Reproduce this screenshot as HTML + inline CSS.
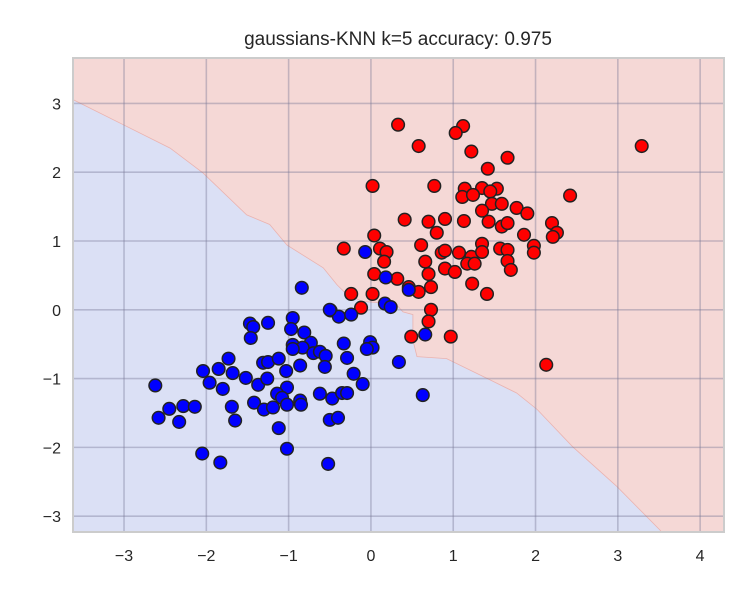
<!DOCTYPE html>
<html><head><meta charset="utf-8"><style>
html,body{margin:0;padding:0;background:#fff;}
svg text{font-family:"Liberation Sans","DejaVu Sans",sans-serif;fill:#262626;}
</style></head><body>
<svg id="chart" width="750" height="600" xmlns="http://www.w3.org/2000/svg">
<text x="398" y="45" font-size="19" text-anchor="middle">gaussians-KNN k=5 accuracy: 0.975</text>
<g id="plot"></g>
</svg>
<script>
const xTicks=[-3,-2,-1,0,1,2,3,4];
const yTicks=[-3,-2,-1,0,1,2,3];
const boundaryX=[-3.62,-3.61,-3.01,-2.44,-2.04,-1.51,-1.23,-1.02,-0.58,-0.41,-0.29,-0.10,0.15,0.29,0.39,0.51,0.51,0.56,0.92,1.45,1.77,2.02,2.45,2.99,3.51,3.53];
const boundaryY=[3.06,3.05,2.69,2.35,1.99,1.38,1.24,0.94,0.61,0.36,0.22,0.12,0.10,0.10,-0.03,-0.07,-0.44,-0.68,-0.71,-1.02,-1.21,-1.45,-1.99,-2.57,-3.20,-3.23];
const redX=[0.33,1.12,1.03,0.58,1.22,1.66,1.42,0.02,0.77,1.14,1.35,1.53,1.45,1.11,1.24,1.47,1.59,2.42,1.35,1.77,1.90,0.41,0.70,0.90,1.13,1.43,1.59,1.66,2.20,2.26,2.21,0.80,0.04,1.86,1.98,1.98,-0.33,0.11,0.19,0.16,0.61,0.86,0.90,1.07,1.22,1.35,1.35,1.57,1.66,1.66,1.70,0.66,1.17,1.26,0.90,1.02,0.70,1.23,1.41,0.04,0.32,0.46,0.58,0.73,-0.24,0.02,-0.12,0.73,0.70,0.49,0.97,2.13,3.29];
const redY=[2.69,2.67,2.57,2.38,2.30,2.21,2.05,1.80,1.80,1.76,1.77,1.76,1.72,1.64,1.67,1.54,1.54,1.66,1.44,1.48,1.40,1.31,1.28,1.32,1.29,1.28,1.21,1.26,1.26,1.12,1.06,1.12,1.08,1.09,0.93,0.83,0.89,0.89,0.84,0.70,0.94,0.83,0.86,0.83,0.77,0.96,0.84,0.89,0.87,0.71,0.58,0.70,0.67,0.67,0.60,0.55,0.52,0.38,0.23,0.52,0.45,0.33,0.26,0.33,0.23,0.23,0.03,0.00,-0.17,-0.39,-0.39,-0.80,2.38];
const blueX=[-0.84,-0.49,-0.39,-0.24,0.17,0.24,0.46,0.66,-1.47,-1.43,-1.25,-0.95,-0.97,-1.46,-0.81,-0.73,-0.95,-0.83,-0.70,-0.62,-0.55,-0.56,-0.86,-0.95,-0.33,-0.01,0.02,-0.05,-0.29,0.34,-1.73,-1.31,-1.25,-1.12,-1.03,-2.04,-1.85,-1.68,-1.52,-1.37,-1.26,-1.96,-1.80,-2.62,-0.21,-0.10,-0.62,-0.47,-0.35,-0.29,0.63,-1.02,-1.14,-1.08,-1.02,-0.86,-0.85,-1.42,-1.30,-1.19,-1.69,-2.28,-2.14,-2.45,-2.58,-2.33,-1.65,-1.12,-0.50,-0.40,-2.05,-1.83,-1.02,-0.52,-0.07,0.18,-0.50];
const blueY=[0.32,-0.01,-0.10,-0.07,0.09,0.04,0.29,-0.36,-0.20,-0.25,-0.19,-0.12,-0.28,-0.41,-0.33,-0.48,-0.51,-0.55,-0.63,-0.61,-0.67,-0.83,-0.81,-0.57,-0.49,-0.47,-0.55,-0.57,-0.70,-0.76,-0.71,-0.77,-0.76,-0.71,-0.89,-0.89,-0.86,-0.92,-0.99,-1.09,-1.00,-1.06,-1.15,-1.10,-0.93,-1.08,-1.22,-1.29,-1.21,-1.21,-1.24,-1.13,-1.22,-1.28,-1.38,-1.32,-1.38,-1.35,-1.45,-1.42,-1.41,-1.40,-1.41,-1.44,-1.57,-1.63,-1.61,-1.72,-1.60,-1.57,-2.09,-2.22,-2.02,-2.24,0.84,0.47,0.00];

const L=73,R=724,T=58,B=532;
const xmin=-3.62,xmax=4.29,ymin=-3.23,ymax=3.66;
const sx=v=>L+(v-xmin)/(xmax-xmin)*(R-L);
const sy=v=>B-(v-ymin)/(ymax-ymin)*(B-T);
const NS="http://www.w3.org/2000/svg";
const g=document.getElementById('plot');
function mk(tag,attrs,parent){const e=document.createElementNS(NS,tag);for(const k in attrs)e.setAttribute(k,attrs[k]);(parent||g).appendChild(e);return e;}

let bg=mk('rect',{x:L,y:T,width:R-L,height:B-T,fill:'#dbe0f5'});


let pts=[];
for(let i=0;i<boundaryX.length;i++)pts.push(sx(boundaryX[i]).toFixed(1)+','+sy(boundaryY[i]).toFixed(1));
pts.push(R+','+B);pts.push(R+','+T);pts.push(L+','+T);
let red=mk('polygon',{points:pts.join(' '),fill:'#f5d8d6',stroke:'#eab3b0','stroke-width':0.8});



xTicks.forEach(t=>{
 let l=mk('line',{x1:sx(t),x2:sx(t),y1:T,y2:B,stroke:'rgba(120,120,150,0.4)','stroke-width':1.6});
 
 
 let tx=mk('text',{x:sx(t),y:B+29,'font-size':16,'text-anchor':'middle'},document.getElementById('chart'));
 tx.textContent=(t<0?'\u2212'+(-t):t);
 
 
});
yTicks.forEach(t=>{
 let l=mk('line',{x1:L,x2:R,y1:sy(t),y2:sy(t),stroke:'rgba(120,120,150,0.4)','stroke-width':1.6});
 
 
 let tx=mk('text',{x:L-12,y:sy(t)+6,'font-size':16,'text-anchor':'end'},document.getElementById('chart'));
 tx.textContent=(t<0?'\u2212'+(-t):t);
 
 
});
let fr=mk('rect',{x:L,y:T,width:R-L,height:B-T,fill:'none',stroke:'#cccccc','stroke-width':2});



for(let i=0;i<redX.length;i++){
 let c=mk('circle',{cx:sx(redX[i]),cy:sy(redY[i]),r:6.3,fill:'#ff0000',stroke:'#222','stroke-width':1.5});
 
 
}
for(let i=0;i<blueX.length;i++){
 let c=mk('circle',{cx:sx(blueX[i]),cy:sy(blueY[i]),r:6.3,fill:'#0000ff',stroke:'#222','stroke-width':1.5});
 
 
}
</script>
</body></html>
